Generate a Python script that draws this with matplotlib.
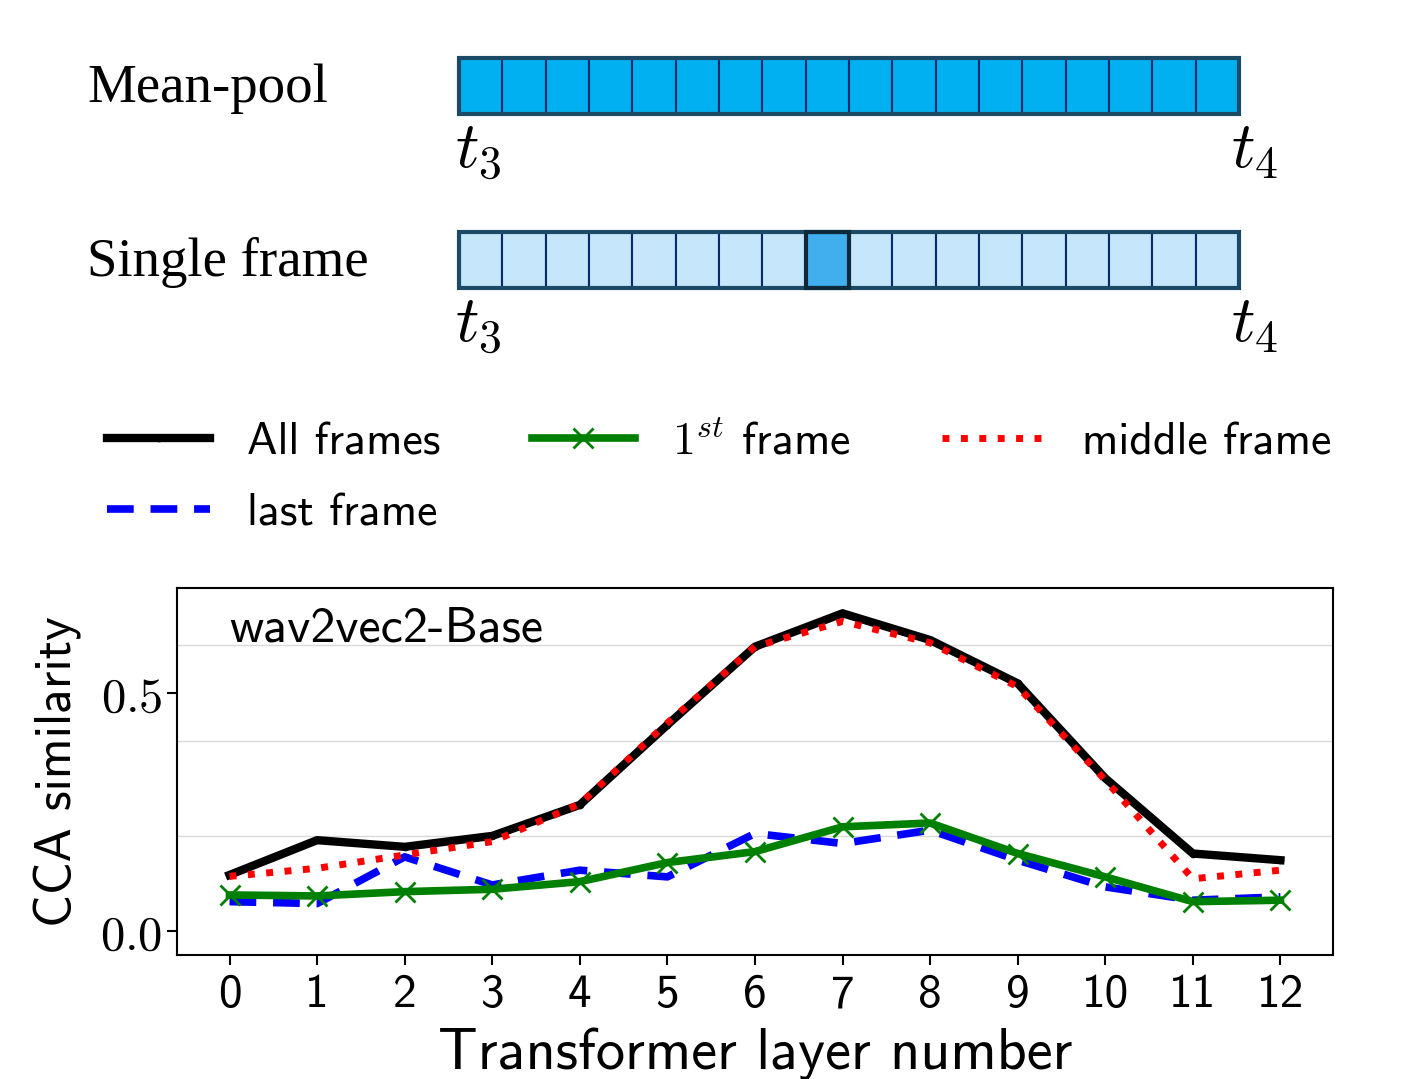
import matplotlib
matplotlib.use("Agg")
import matplotlib.pyplot as plt
from matplotlib.patches import Rectangle
import numpy as np

plt.rcParams['mathtext.fontset'] = 'cm'
SANS = 'cmss10'

layers = np.arange(13)
all_frames = [0.118, 0.191, 0.177, 0.200, 0.265, 0.433, 0.597, 0.667, 0.611, 0.520, 0.321, 0.163, 0.149]
first_frame = [0.076, 0.074, 0.083, 0.088, 0.104, 0.144, 0.167, 0.219, 0.227, 0.163, 0.114, 0.062, 0.065]
middle_frame = [0.115, 0.132, 0.160, 0.188, 0.267, 0.437, 0.597, 0.650, 0.605, 0.513, 0.317, 0.110, 0.128]
last_frame = [0.062, 0.058, 0.156, 0.097, 0.128, 0.114, 0.205, 0.184, 0.212, 0.149, 0.093, 0.065, 0.072]

n_frames = 18
picked_frame = 8
rows = ['Mean-pool', 'Single frame']

fig = plt.figure(figsize=(14.08, 10.79), dpi=100)

# ---------------- top diagram (pixel coords) ----------------
ax0 = fig.add_axes([0, 0, 1, 1])
ax0.set_xlim(0, 1408)
ax0.set_ylim(1079, 0)
ax0.axis('off')

x_left, x_right = 459, 1239
cell_w = (x_right - x_left) / n_frames
row_tops = [58, 232]
row_h = 56
for r, name in enumerate(rows):
    top = row_tops[r]
    for i in range(n_frames):
        if r == 0:
            fc = '#00b0f0'
        elif i == picked_frame:
            fc = '#41aeee'
        else:
            fc = '#c5e6fb'
        ax0.add_patch(Rectangle((x_left + i * cell_w, top), cell_w, row_h,
                                facecolor=fc, edgecolor='#0a2a6a', lw=1.5))
    ax0.add_patch(Rectangle((x_left, top), x_right - x_left, row_h,
                            facecolor='none', edgecolor='#1c4a66', lw=3))
    if r == 1:
        ax0.add_patch(Rectangle((x_left + picked_frame * cell_w, top), cell_w, row_h,
                                facecolor='none', edgecolor='#0e2a3a', lw=3))
    ax0.text(87, top + 31, name, fontsize=39.5, family='Liberation Serif',
             va='center', ha='left')
    ax0.text(455, top + 92, r'$t_3$', fontsize=47, va='center', ha='left')
    ax0.text(1231, top + 92, r'$t_4$', fontsize=47, va='center', ha='left')

# ---------------- line chart ----------------
ax = fig.add_axes([0.1257, 0.1149, 0.8210, 0.3401])
l_all, = ax.plot(layers, all_frames, color='black', lw=6, marker='.', ms=9, label='All frames', zorder=3)
l_first, = ax.plot(layers, first_frame, color='green', lw=5.5, marker='x', ms=14, mew=2,
                   label=r'$1^{st}$ frame', zorder=4)
l_mid, = ax.plot(layers, middle_frame, color='red', lw=5, ls=':', label='middle frame', zorder=5)
l_last, = ax.plot(layers, last_frame, color='blue', lw=5.5, ls=(0, (3.5, 2.2)), label='last frame', zorder=2)

ax.set_xlim(-0.6, 12.6)
ax.set_ylim(-0.05, 0.72)
ax.set_xticks(layers)
ax.set_xticklabels([str(i) for i in layers], fontfamily=SANS, fontsize=34)
ax.set_yticks([0.0, 0.5])
ax.set_yticklabels([r'$0.0$', r'$0.5$'], fontsize=35)
ax.set_yticks([0.0, 0.2, 0.4, 0.6], minor=True)
ax.grid(which='minor', axis='y', color='#d9d9d9', lw=1)
ax.tick_params(which='minor', length=0)
ax.tick_params(which='major', length=7, width=1.5)
ax.tick_params(axis='x', pad=7)
for s in ax.spines.values():
    s.set_linewidth(1.5)

ax.set_xlabel('Transformer layer number', fontfamily=SANS, fontsize=42, labelpad=8)
ax.set_ylabel('CCA similarity', fontfamily=SANS, fontsize=37, labelpad=14)
ax.text(0.045, 0.95, 'wav2vec2-Base', transform=ax.transAxes, fontfamily=SANS,
        fontsize=36, va='top', ha='left')

# column-major fill -> order so that rows read All, 1st, middle / last
handles = [l_all, l_last, l_first, l_mid]
fig.legend(handles, [h.get_label() for h in handles],
           loc='upper left', bbox_to_anchor=(0.063, 0.6265), ncol=3,
           frameon=False, prop={'family': SANS, 'size': 33}, borderaxespad=0,
           handlelength=2.25, handletextpad=0.8, columnspacing=2.0,
           labelspacing=0.65)

fig.savefig('out.png', dpi=100)
